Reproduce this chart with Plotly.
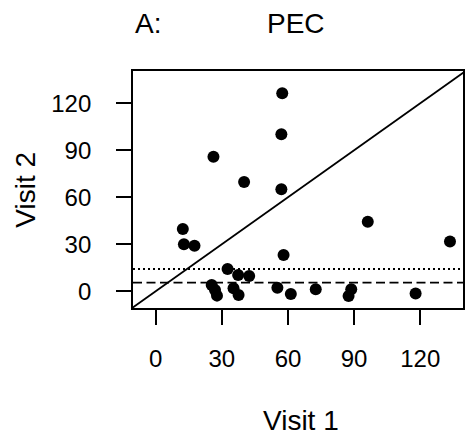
import plotly.graph_objects as go

# PEC measurements at the two visits (one point per subject)
visit1 = [57.4, 57.0, 26.2, 40.1, 57.0, 12.3, 12.8, 17.6, 96.2, 133.5, 58.0,
          32.6, 37.4, 42.4, 25.4, 26.9, 27.8, 35.3, 37.6, 55.2, 61.3, 72.6,
          88.7, 87.5, 117.9]
visit2 = [126.4, 100.2, 85.9, 69.8, 65.1, 39.8, 30.0, 29.1, 44.4, 31.7, 23.2,
          14.2, 10.4, 9.8, 4.0, 0.8, -2.8, 1.9, -2.4, 2.3, -1.7, 1.3,
          1.3, -3.0, -1.5]

# reference levels drawn as horizontal lines
dotted_level = 14.2
dashed_level = 5.5

tick_vals = [0, 30, 60, 90, 120]
tick_text = ["0", "30", "60", "90", "120"]

x_range = [-10.3, 139.4]
y_range = [-10.7, 140.6]

FONT = "Liberation Sans, Arial, Helvetica, sans-serif"

fig = go.Figure()

# identity line y = x across the whole panel
lo = min(x_range[0], y_range[0]) - 5
hi = max(x_range[1], y_range[1]) + 5
fig.add_trace(go.Scatter(
    x=[lo, hi], y=[lo, hi], mode="lines",
    line=dict(color="black", width=1.8), hoverinfo="skip", showlegend=False,
))

fig.add_trace(go.Scatter(
    x=visit1, y=visit2, mode="markers",
    marker=dict(color="black", size=12, line=dict(width=0)),
    showlegend=False,
))

fig.add_shape(type="line", xref="paper", yref="y", x0=0, x1=1,
              y0=dotted_level, y1=dotted_level,
              line=dict(color="black", width=1.8, dash="2px,3px"))
fig.add_shape(type="line", xref="paper", yref="y", x0=0, x1=1,
              y0=dashed_level, y1=dashed_level,
              line=dict(color="black", width=1.8, dash="9px,4.5px"))

axis_common = dict(
    showgrid=False, zeroline=False, showline=True, mirror=True,
    linecolor="black", linewidth=1.8,
    ticks="outside", ticklen=15, tickwidth=1.8, tickcolor="black",
    tickvals=tick_vals, ticktext=tick_text,
    tickfont=dict(family=FONT, size=24, color="black"),
)

fig.update_xaxes(range=x_range, ticklabelstandoff=13, **axis_common)
fig.update_yaxes(range=y_range, ticklabelstandoff=20, **axis_common)

L, R, T, B = 133, 465, 71, 308
W, H = R - L, B - T


def px(x):
    return (x - L) / W


def py(y):
    return (B - y) / H


text_font = dict(family=FONT, size=28, color="black")
annotations = [
    dict(text="PEC", x=px(297), y=py(23.5), xanchor="center", yanchor="middle"),
    dict(text="A:", x=px(133), y=py(23.5), xanchor="left", yanchor="middle"),
    dict(text="Visit 1", x=px(302), y=py(420), xanchor="center", yanchor="middle"),
    dict(text="Visit 2", x=px(24), y=py(190), xanchor="center", yanchor="middle",
         textangle=-90),
]
for a in annotations:
    fig.add_annotation(xref="paper", yref="paper", showarrow=False,
                       font=text_font, **a)

fig.update_layout(
    width=466, height=446,
    margin=dict(l=L, r=466 - R, t=T, b=446 - B, pad=0),
    paper_bgcolor="white", plot_bgcolor="white",
)

fig.write_html("out.html")
